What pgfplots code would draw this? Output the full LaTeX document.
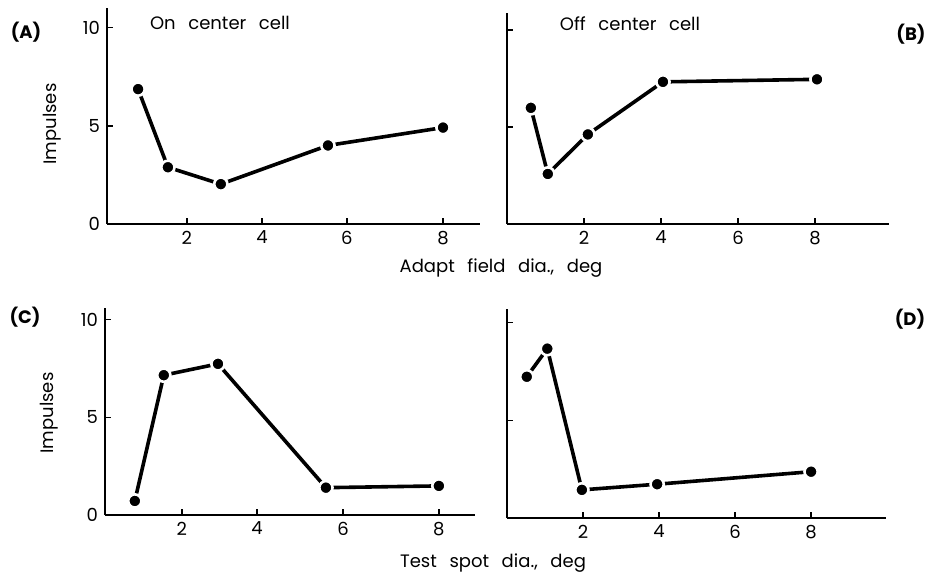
\documentclass[border=0pt]{standalone}
\usepackage{fontspec}
\setmainfont{Poppins}
\usepackage{pgfplots}
\pgfplotsset{compat=1.18}
\pgfplotsset{panel/.style={
  scale only axis, clip=false,
  axis x line=bottom, axis y line=left,
  axis line style={line width=0.9pt,-},
  tick align=inside, major tick length=3pt,
  tick style={line width=0.7pt,black},
  xmin=0, ymin=0,
  tick label style={font=\fontsize{9}{10}\selectfont},
  /pgf/number format/assume math mode=true,
}}
\tikzset{dots/.style={black, line width=1.8pt, mark=*, mark size=3.3pt,
     mark options={fill=black, draw=white, line width=1.3pt, solid}}}
\newcommand{\wsp}{\hspace{0.7em}}
\begin{document}
\begin{tikzpicture}
\useasboundingbox (0,0) rectangle (463.5pt,287pt);
% (A)
\begin{axis}[panel, at={(53.5pt,175pt)}, anchor=south west,
  width=186.5pt, height=108pt, xmax=8.88, ymax=11,
  xtick={1.90,3.69,5.71,8.0}, xticklabels={2,4,6,8},
  ytick={0,5,10}]
\addplot[dots] coordinates {(0.74,6.87) (1.45,2.89) (2.71,2.03) (5.26,4.0) (8.0,4.91)};
\end{axis}
% (B)
\begin{axis}[panel, at={(253.5pt,175pt)}, anchor=south west,
  width=191pt, height=105.5pt, xmax=9.92, ymax=10.88,
  xtick={2,4,6,8}, ytick={5,10}, yticklabels={}]
\addplot[dots] coordinates {(0.62,5.99) (1.06,2.58) (2.1,4.62) (4.05,7.33) (8.05,7.46)};
\end{axis}
% (C)
\begin{axis}[panel, at={(52.5pt,29.5pt)}, anchor=south west,
  width=185pt, height=103.5pt, xmax=8.81, ymax=10.6,
  xtick={1.83,3.62,5.67,7.95}, xticklabels={2,4,6,8},
  ytick={0,5,10}]
\addplot[dots] coordinates {(0.71,0.72) (1.40,7.16) (2.69,7.74) (5.26,1.40) (7.95,1.49)};
\end{axis}
% (D)
\begin{axis}[panel, at={(253.5pt,28pt)}, anchor=south west,
  width=189.5pt, height=104.5pt, xmax=9.97, ymax=10.7,
  xtick={2,4,6,8}, ytick={5,10}, yticklabels={}]
\addplot[dots] coordinates {(0.52,7.23) (1.06,8.67) (1.97,1.44) (3.95,1.73) (8.0,2.37)};
\end{axis}
\tikzset{lab/.style={font=\bfseries\fontsize{9}{10}\selectfont, inner sep=0pt},
         txt/.style={font=\fontsize{9}{10}\selectfont, inner sep=0pt}}
\node[lab] at (13pt,271pt) {(A)};
\node[lab] at (455.5pt,270pt) {(B)};
\node[lab] at (12.5pt,128.5pt) {(C)};
\node[lab] at (455pt,127.5pt) {(D)};
\node[txt] at (110pt,275.5pt) {On\wsp center\wsp cell};
\node[txt] at (315pt,275pt) {Off\wsp center\wsp cell};
\node[txt, rotate=90] at (26pt,225pt) {Impulses};
\node[txt, rotate=90] at (24.5pt,80.5pt) {Impulses};
\node[txt] at (250.5pt,153pt) {Adapt\wsp field\wsp dia.,\wsp deg};
\node[txt] at (246.5pt,5.5pt) {Test\wsp spot\wsp dia.,\wsp deg};
\end{tikzpicture}
\end{document}
